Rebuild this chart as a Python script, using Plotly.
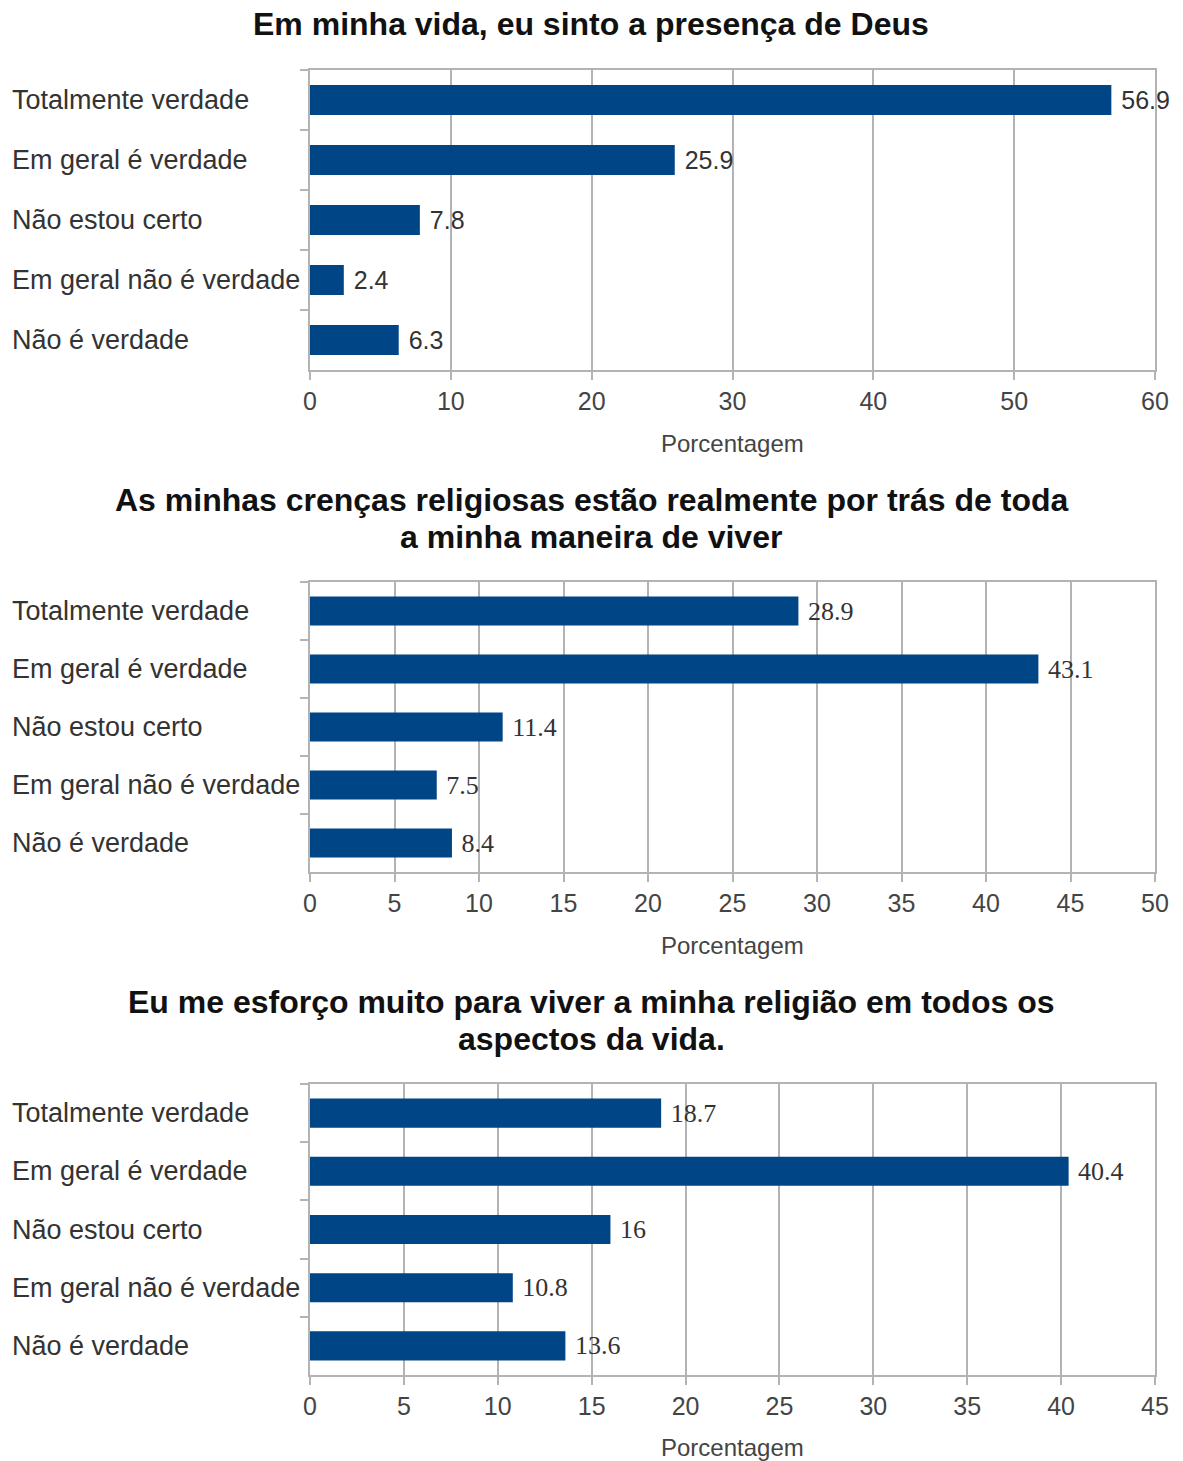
import plotly.graph_objects as go

categories = ["Totalmente verdade", "Em geral é verdade", "Não estou certo",
              "Em geral não é verdade", "Não é verdade"]
titles = [["Em minha vida, eu sinto a presença de Deus"],
          ["As minhas crenças religiosas estão realmente por trás de toda",
           "a minha maneira de viver"],
          ["Eu me esforço muito para viver a minha religião em todos os",
           "aspectos da vida."]]
values_1 = [56.9, 25.9, 7.8, 2.4, 6.3]
values_2 = [28.9, 43.1, 11.4, 7.5, 8.4]
values_3 = [18.7, 40.4, 16, 10.8, 13.6]
x_max = [60, 50, 45]
x_dtick = [10, 5, 5]
x_title = "Porcentagem"

W, H = 1183, 1461
BAR = "#004586"
GRID = "#b3b3b3"

boxes = [(70, 370), (582, 872), (1084, 1375)]
title_y = [[24], [500, 537], [1002, 1039]]
xtitle_y = [443, 945, 1447]
x0, x1 = 310, 1155

fig = go.Figure()
annotations = []
series = [values_1, values_2, values_3]
for i, vals in enumerate(series):
    n = i + 1
    xa = "x" if n == 1 else f"x{n}"
    ya = "y" if n == 1 else f"y{n}"
    fig.add_trace(go.Bar(
        x=vals, y=categories, orientation="h", marker_color=BAR,
        marker_line_width=0, width=0.5,
        text=["\u00a0" + f"{v:g}" for v in vals], textposition="outside",
        textfont=dict(family="Liberation Serif" if i > 0 else "Liberation Sans",
                      size=26 if i > 0 else 25, color="#333333"),
        cliponaxis=False, xaxis=xa, yaxis=ya, showlegend=False, hoverinfo="skip"))
    top, bot = boxes[i]
    fig.update_layout(**{
        ("xaxis" if n == 1 else f"xaxis{n}"): dict(
            domain=[x0 / W, x1 / W], anchor=ya, range=[0, x_max[i]], dtick=x_dtick[i],
            showgrid=True, gridcolor=GRID, gridwidth=2, showline=True, linecolor=GRID,
            linewidth=2, mirror=True, ticks="outside", ticklen=8, tickcolor=GRID,
            tickwidth=2, zeroline=False, automargin=False,
            tickfont=dict(family="Liberation Sans", size=25, color="#444444")),
        ("yaxis" if n == 1 else f"yaxis{n}"): dict(
            domain=[1 - bot / H, 1 - top / H], anchor=xa, type="category",
            categoryorder="array", categoryarray=categories, autorange="reversed",
            showgrid=False, showline=True, linecolor=GRID, linewidth=2, mirror=True,
            ticks="outside", ticklen=8, tickcolor=GRID, tickwidth=2, automargin=False,
            tickson="boundaries", showticklabels=False),
    })
    for c in categories:
        annotations.append(dict(text=c, x=10 / W, xref="paper", xanchor="left",
                                y=c, yref=ya, showarrow=False,
                                font=dict(family="Liberation Sans", size=27, color="#333333")))
    annotations.append(dict(text=x_title, x=(x0 + x1) / 2 / W, xref="paper", xanchor="center",
                            y=1 - xtitle_y[i] / H, yref="paper", yanchor="middle",
                            showarrow=False,
                            font=dict(family="Liberation Sans", size=24, color="#444444")))
    for line, ly in zip(titles[i], title_y[i]):
        annotations.append(dict(text=f"<b>{line}</b>", x=591 / W, xref="paper", xanchor="center",
                                y=1 - ly / H, yref="paper", yanchor="middle",
                                showarrow=False,
                                font=dict(family="Liberation Sans", size=32, color="#111111")))

fig.update_layout(width=W, height=H, autosize=False, margin=dict(l=0, r=0, t=0, b=0, pad=0),
                  plot_bgcolor="white", paper_bgcolor="white",
                  annotations=annotations)
fig.write_html("out.html", config={"responsive": False})
